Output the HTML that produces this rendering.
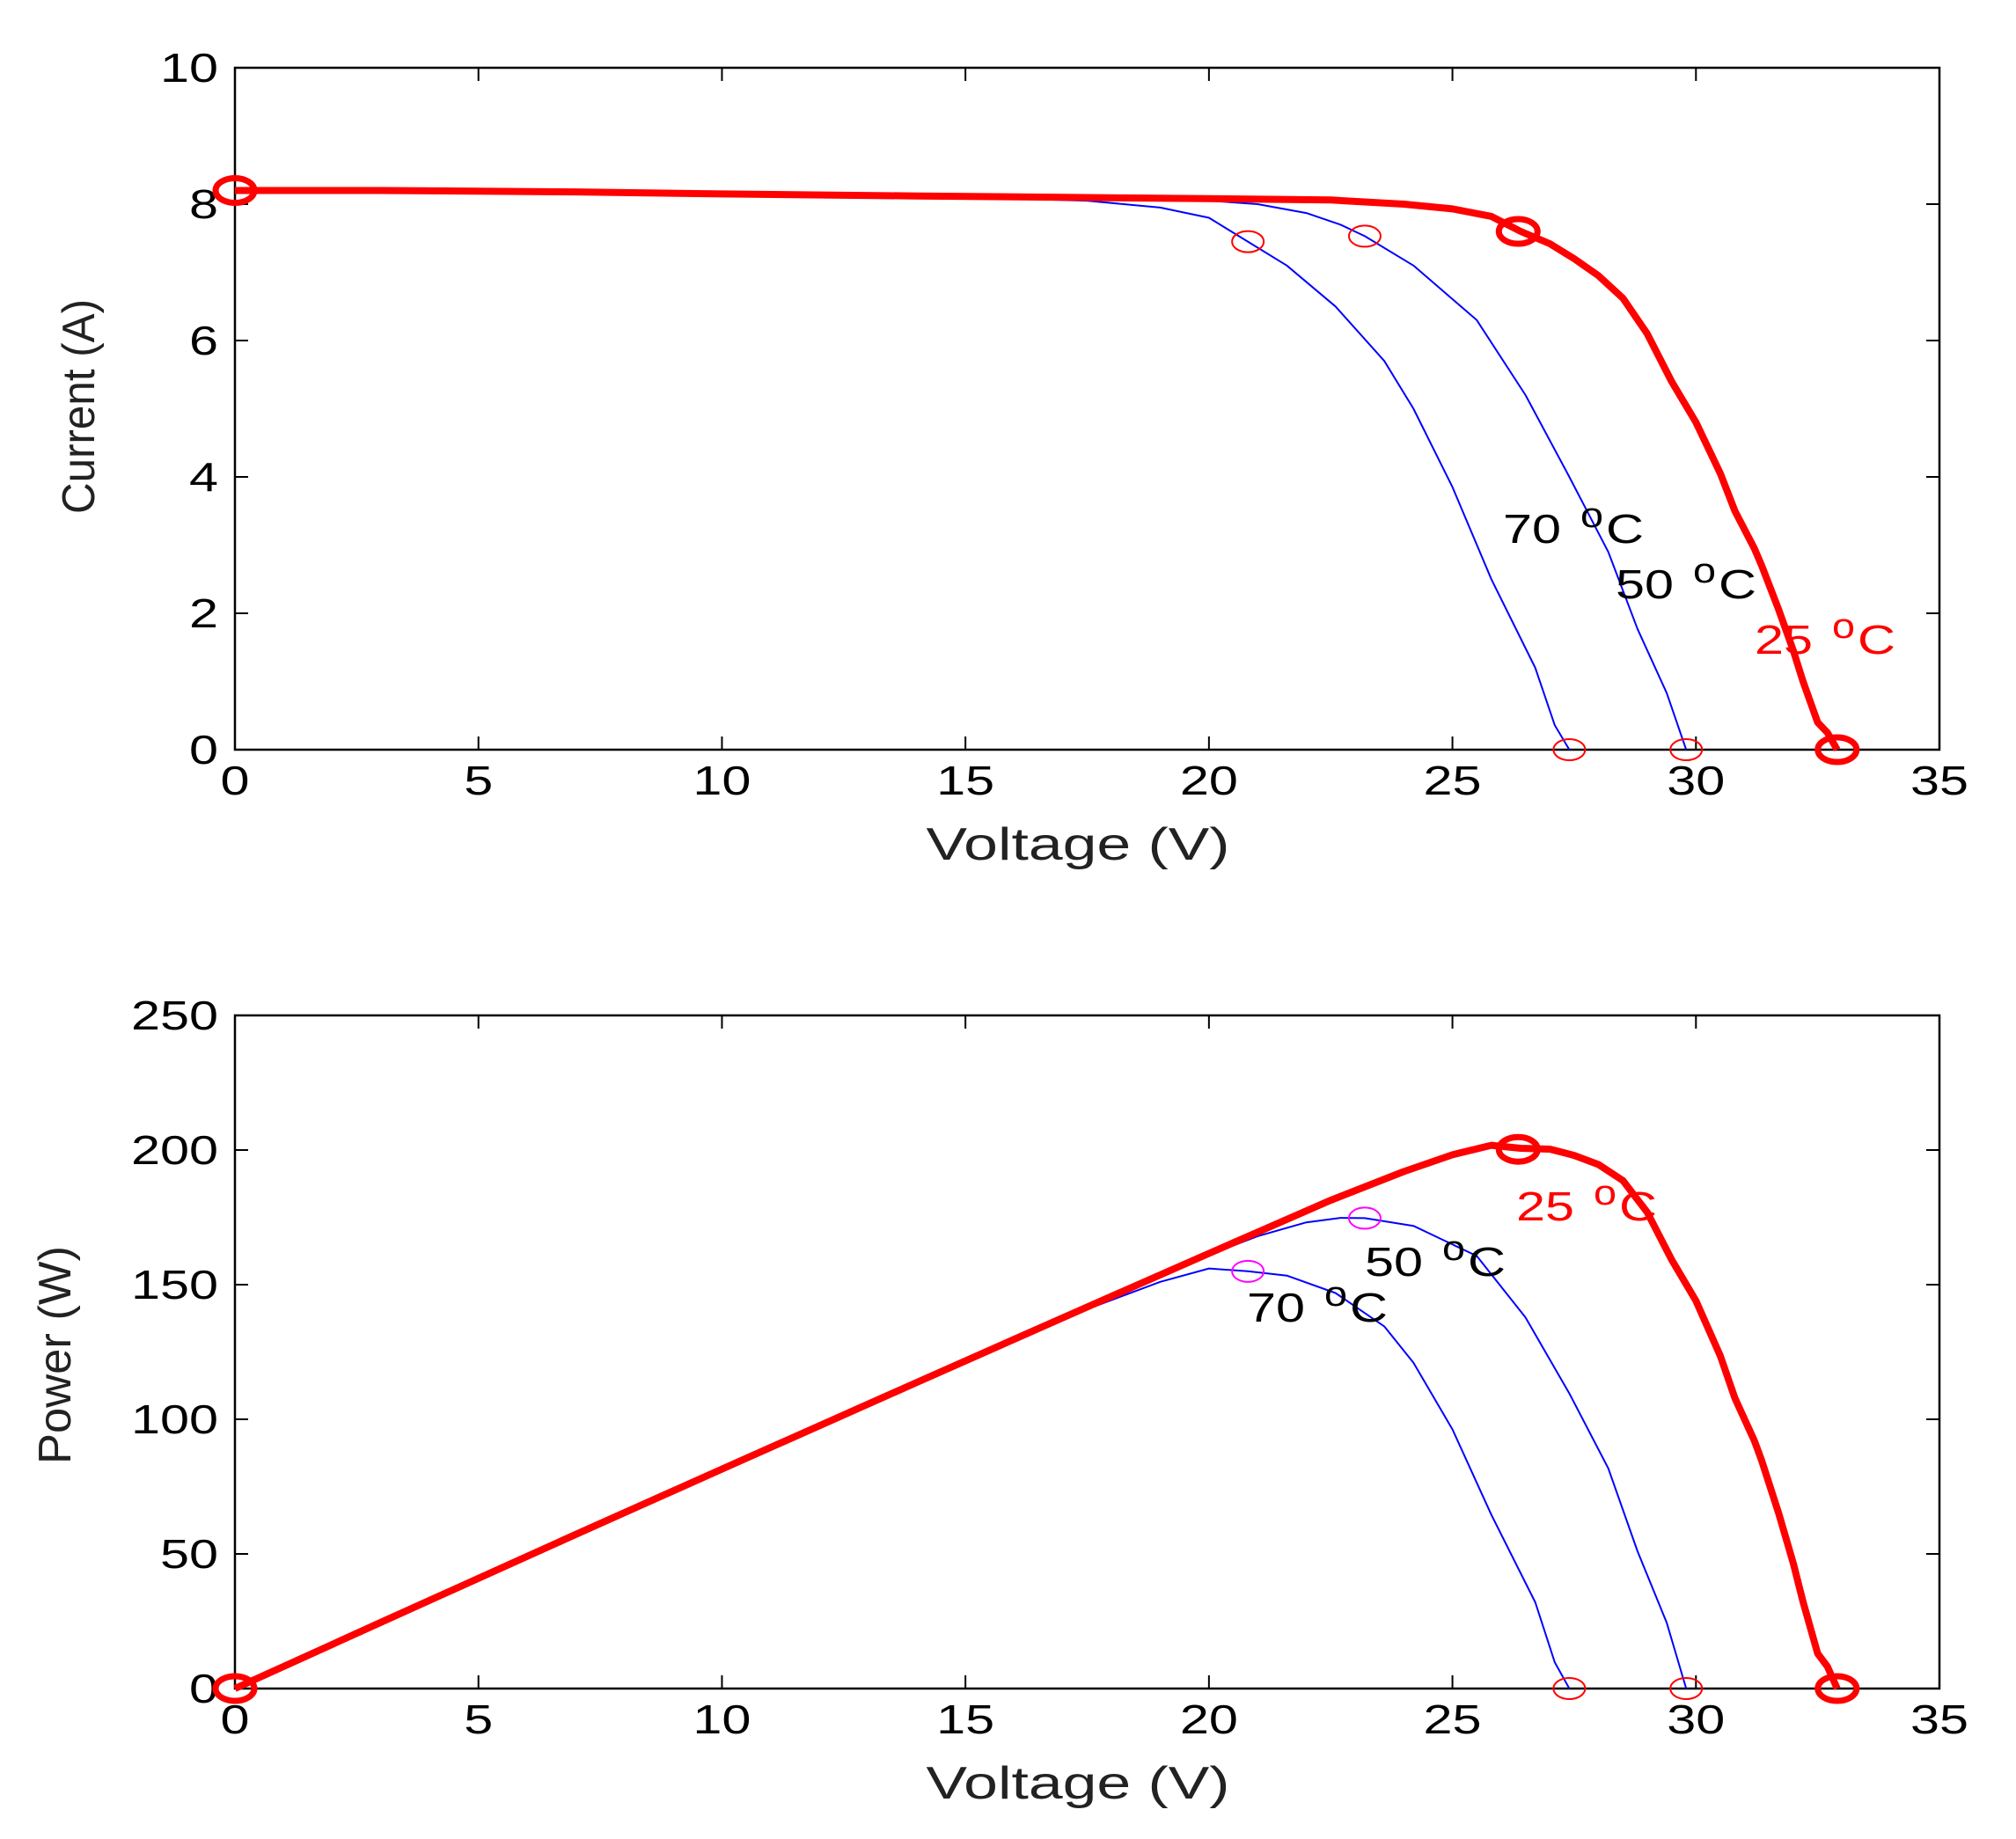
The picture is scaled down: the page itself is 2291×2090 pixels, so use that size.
<!DOCTYPE html>
<html><head><meta charset="utf-8"><style>
html,body{margin:0;padding:0;background:#fff;}
svg{display:block;font-family:"Liberation Sans",Arial,sans-serif;}
</style></head><body>
<svg id="chart" width="2291" height="2090" viewBox="0 0 2291 2090" xmlns="http://www.w3.org/2000/svg"></svg>
<script>
// ---- data ----
var v25 = [0, 3, 7, 10, 14, 17, 20, 22.5, 24, 25, 25.8, 26.4, 27, 27.5, 28, 28.5, 29, 29.5, 30, 30.5, 30.8, 31.2, 31.35, 31.7, 32.0, 32.2, 32.5, 32.7, 32.9];
var i25 = [8.2, 8.2, 8.18, 8.15, 8.12, 8.1, 8.08, 8.06, 8.0, 7.93, 7.82, 7.6, 7.42, 7.2, 6.95, 6.62, 6.1, 5.4, 4.8, 4.05, 3.5, 2.95, 2.7, 2.05, 1.45, 1.0, 0.4, 0.25, 0];
var v50 = [0, 5, 10, 15, 18, 20, 21, 22, 22.7, 23.2, 24.2, 25.5, 26.5, 27.4, 28.2, 28.8, 29.4, 29.8];
var i50 = [8.2, 8.18, 8.15, 8.12, 8.08, 8.05, 8.0, 7.87, 7.7, 7.53, 7.1, 6.3, 5.2, 4.0, 2.9, 1.77, 0.83, 0];
var v70 = [0, 5, 10, 15, 17.5, 19, 20, 20.8, 21.6, 22.6, 23.6, 24.2, 25.0, 25.8, 26.7, 27.1, 27.4];
var i70 = [8.2, 8.18, 8.15, 8.1, 8.05, 7.95, 7.8, 7.45, 7.1, 6.5, 5.7, 5.0, 3.85, 2.5, 1.2, 0.36, 0];
var xTicks = [0, 5, 10, 15, 20, 25, 30, 35];
var iTicks = [0, 2, 4, 6, 8, 10];
var pTicks = [0, 50, 100, 150, 200, 250];
var mpp25 = [26.35, 7.6];
var mpp50 = [23.2, 7.53];
var mpp70 = [20.8, 7.45];
var voc = [32.9, 29.8, 27.4];

var NS = "http://www.w3.org/2000/svg";
var svg = document.getElementById('chart');
function el(tag, attrs, parent) {
  var e = document.createElementNS(NS, tag);
  for (var k in attrs) e.setAttribute(k, attrs[k]);
  (parent || svg).appendChild(e);
  return e;
}
var X0 = 267, X1 = 2204;
function sx(v) { return X0 + (v - 0) / 35 * (X1 - X0); }
function makeY(top, bot, max) { return function (val) { return bot - val / max * (bot - top); }; }
var syI = makeY(77, 852, 10);
var syP = makeY(1154, 1919, 250);

function axes(name, top, bot, ticks, sy, ylabel, ytitleY, xtitleY, ylen) {
  var g = el('g', {});
  
  
  var f = el('rect', {x: X0, y: top, width: X1 - X0, height: bot - top, fill: 'none', stroke: '#000', 'stroke-width': 2.5}, g);
  
  
  xTicks.forEach(function (t) {
    var x = sx(t);
    el('line', {x1: x, y1: bot, x2: x, y2: bot - 15, stroke: '#000', 'stroke-width': 2}, g);
    el('line', {x1: x, y1: top, x2: x, y2: top + 15, stroke: '#000', 'stroke-width': 2}, g);
    var s = String(t);
    var tx = el('text', {x: x, y: bot + 51, 'font-size': 46, 'text-anchor': 'middle', fill: '#000', textLength: s.length * 33, lengthAdjust: 'spacingAndGlyphs'}, g);
    
    
    tx.textContent = s;
  });
  ticks.forEach(function (t) {
    var y = sy(t);
    el('line', {x1: X0, y1: y, x2: X0 + 15, y2: y, stroke: '#000', 'stroke-width': 2}, g);
    el('line', {x1: X1, y1: y, x2: X1 - 15, y2: y, stroke: '#000', 'stroke-width': 2}, g);
    var s = String(t);
    var ty = el('text', {x: 248, y: y + 16, 'font-size': 46, 'text-anchor': 'end', fill: '#000', textLength: s.length * 33, lengthAdjust: 'spacingAndGlyphs'}, g);
    
    
    ty.textContent = s;
  });
  var xt = el('text', {x: 1225, y: xtitleY, 'font-size': 52, 'text-anchor': 'middle', fill: '#222', textLength: 345, lengthAdjust: 'spacingAndGlyphs'}, g);
  
  
  xt.textContent = 'Voltage (V)';
  var yt = el('text', {x: 0, y: 0, 'font-size': 52, 'text-anchor': 'middle', fill: '#222', textLength: ylen, lengthAdjust: 'spacingAndGlyphs', transform: 'translate(' + ytitleY[0] + ',' + ytitleY[1] + ') rotate(-90)'}, g);
  
  
  yt.textContent = ylabel;
}
axes('current-plot', 77, 852, iTicks, syI, 'Current (A)', [107, 462], 977, 244);
axes('power-plot', 1154, 1919, pTicks, syP, 'Power (W)', [80, 1540], 2044, 248);

function curve(name, vs, ys, sy, color, w, power) {
  var d = vs.map(function (v, k) {
    var val = power ? v * ys[k] : ys[k];
    return (k ? 'L' : 'M') + sx(v).toFixed(1) + ',' + sy(val).toFixed(1);
  }).join(' ');
  var p = el('path', {d: d, fill: 'none', stroke: color, 'stroke-width': w, 'stroke-linejoin': 'round'});
  
  
}
function circ(name, v, val, sy, color, thick) {
  var c = el('ellipse', {cx: sx(v), cy: sy(val), rx: thick ? 22 : 18, ry: thick ? 14 : 12, fill: 'none', stroke: color, 'stroke-width': thick ? 7 : 2});
  
  
}
// top I-V
curve('iv-curve-70c', v70, i70, syI, '#0000ff', 2, false);
curve('iv-curve-50c', v50, i50, syI, '#0000ff', 2, false);
curve('iv-curve-25c', v25, i25, syI, '#ff0000', 8, false);
circ('isc-marker-25c', 0, i25[0], syI, '#ff0000', true);
circ('mpp-marker-25c', mpp25[0], mpp25[1], syI, '#ff0000', true);
circ('voc-marker-25c', voc[0], 0, syI, '#ff0000', true);
circ('mpp-marker-50c', mpp50[0], mpp50[1], syI, '#ff0000', false);
circ('mpp-marker-70c', mpp70[0], mpp70[1], syI, '#ff0000', false);
circ('voc-marker-50c', voc[1], 0, syI, '#ff0000', false);
circ('voc-marker-70c', voc[2], 0, syI, '#ff0000', false);
// bottom P-V
curve('pv-curve-70c', v70, i70, syP, '#0000ff', 2, true);
curve('pv-curve-50c', v50, i50, syP, '#0000ff', 2, true);
curve('pv-curve-25c', v25, i25, syP, '#ff0000', 8, true);
circ('origin-marker-25c', 0, 0, syP, '#ff0000', true);
circ('pmax-marker-25c', mpp25[0], mpp25[0] * mpp25[1], syP, '#ff0000', true);
circ('pvoc-marker-25c', voc[0], 0, syP, '#ff0000', true);
circ('pmax-marker-50c', mpp50[0], mpp50[0] * mpp50[1], syP, '#ff00ff', false);
circ('pmax-marker-70c', mpp70[0], mpp70[0] * mpp70[1], syP, '#ff00ff', false);
circ('pvoc-marker-50c', voc[1], 0, syP, '#ff0000', false);
circ('pvoc-marker-70c', voc[2], 0, syP, '#ff0000', false);

function label(name, txt, x, y, color) {
  var g = el('g', {});
  
  
  var a = el('text', {x: x, y: y, 'font-size': 46, fill: color, textLength: 66, lengthAdjust: 'spacingAndGlyphs'}, g);
  a.textContent = txt;
  var b = el('text', {x: x + 88, y: y - 18, 'font-size': 40, fill: color, textLength: 26, lengthAdjust: 'spacingAndGlyphs'}, g);
  b.textContent = 'o';
  var c = el('text', {x: x + 117, y: y, 'font-size': 46, fill: color, textLength: 43, lengthAdjust: 'spacingAndGlyphs'}, g);
  c.textContent = 'C';
}
label('label-70c-iv', '70', 1708, 617, '#000');
label('label-50c-iv', '50', 1836, 680, '#000');
label('label-25c-iv', '25', 1994, 743, '#ff0000');
label('label-25c-pv', '25', 1723, 1387, '#ff0000');
label('label-50c-pv', '50', 1551, 1450, '#000');
label('label-70c-pv', '70', 1417, 1502, '#000');
</script>
</body></html>
